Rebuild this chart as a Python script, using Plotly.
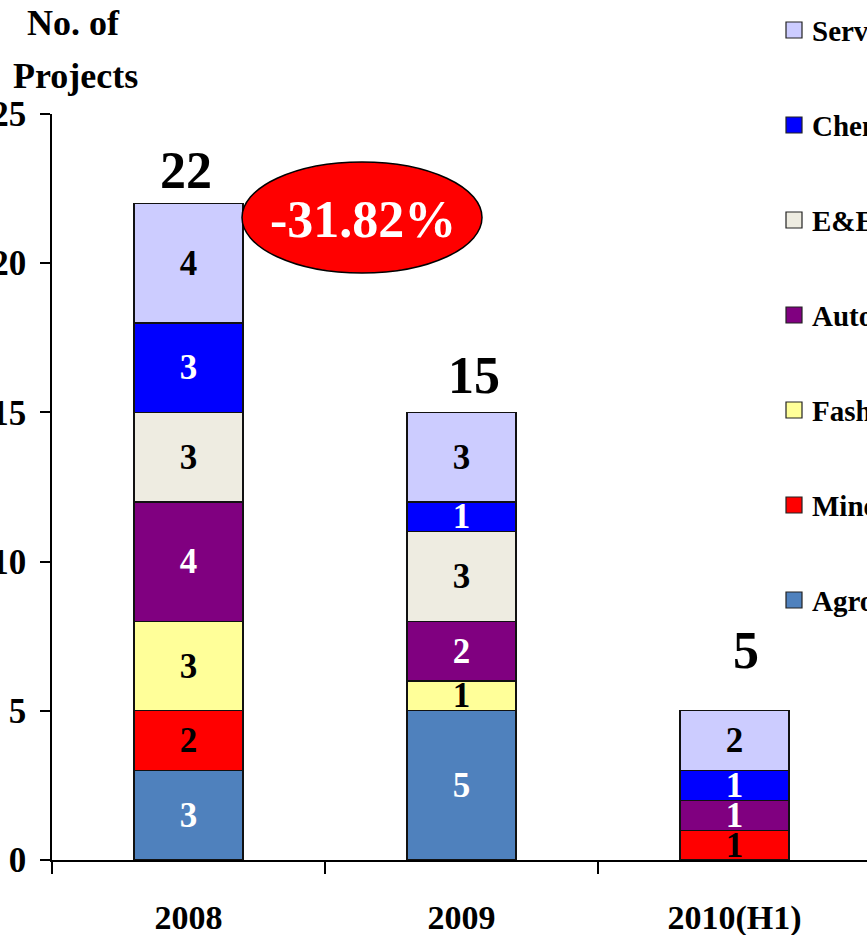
import plotly.graph_objects as go

categories = ["2008", "2009", "2010(H1)"]
series_names = ["Agro-based", "Mineral", "Fashion", "Automotive", "E&E", "Chemical", "Services"]
agro = [3, 5, None]
mineral = [2, None, 1]
fashion = [3, 1, None]
automotive = [4, 2, 1]
ee = [3, 3, None]
chemical = [3, 1, 1]
services = [4, 3, 2]
totals = [22, 15, 5]
change_label = "-31.82%"
y_ticks = [0, 5, 10, 15, 20, 25]

series_values = [agro, mineral, fashion, automotive, ee, chemical, services]
colors = ["#4F81BD", "#FF0000", "#FFFF99", "#800080", "#EEECE1", "#0000FF", "#CCCCFF"]
text_colors = ["white", "black", "black", "white", "black", "white", "black"]

FONT = "Liberation Serif, Times New Roman, serif"

W, H = 867, 935
L, T, B = 52, 114, 75
plot_w = W - L
plot_h = H - T - B
cat_px = 273.0

fig = go.Figure()
for name, vals, col, tcol in zip(series_names, series_values, colors, text_colors):
    fig.add_trace(go.Bar(
        x=categories, y=vals, name=name,
        marker=dict(color=col, line=dict(color="#111111", width=1.3)),
        text=[("" if v is None else str(v)) for v in vals],
        textposition="inside", insidetextanchor="middle", textangle=0,
        constraintext="none",
        textfont=dict(family=FONT, size=35, color=tcol, weight="bold"),
        showlegend=False,
    ))

def px_to_paper_x(px):
    return (px - L) / plot_w

def px_to_paper_y(py):
    return (H - B - py) / plot_h

annotations = []
shapes = []

# titles
annotations.append(dict(text="No. of", x=px_to_paper_x(73), y=px_to_paper_y(23), xref="paper", yref="paper",
                        xanchor="center", yanchor="middle", showarrow=False,
                        font=dict(family=FONT, size=36, color="black", weight="bold")))
annotations.append(dict(text="Projects", x=px_to_paper_x(75), y=px_to_paper_y(76), xref="paper", yref="paper",
                        xanchor="center", yanchor="middle", showarrow=False,
                        font=dict(family=FONT, size=36, color="black", weight="bold")))

# totals above bars (x given as category index)
shifts = [(-3, 33), (12, 37), (11, 60)]
for i, (tot, (dx, dy)) in enumerate(zip(totals, shifts)):
    annotations.append(dict(text=str(tot), x=i, y=tot, xref="x", yref="y",
                            xanchor="center", yanchor="middle", xshift=dx, yshift=dy, showarrow=False,
                            font=dict(family=FONT, size=52, color="black", weight="bold")))

# ellipse with change
shapes.append(dict(type="circle", xref="paper", yref="paper",
                   x0=px_to_paper_x(242), x1=px_to_paper_x(482),
                   y0=px_to_paper_y(273), y1=px_to_paper_y(162),
                   fillcolor="#FF0000", line=dict(color="black", width=1.5)))
annotations.append(dict(text=change_label, x=px_to_paper_x(363), y=px_to_paper_y(219), xref="paper", yref="paper",
                        xanchor="center", yanchor="middle", showarrow=False,
                        font=dict(family=FONT, size=52, color="white", weight="bold")))

# custom legend (clipped at right edge like the reference)
legend_order = list(range(len(series_names)))[::-1]
for i, idx in enumerate(legend_order):
    cy = 30 + 95 * i
    shapes.append(dict(type="rect", xref="paper", yref="paper",
                       x0=px_to_paper_x(786), x1=px_to_paper_x(802),
                       y0=px_to_paper_y(cy + 8), y1=px_to_paper_y(cy - 8),
                       fillcolor=colors[idx], line=dict(color="#222222", width=1.2)))
    annotations.append(dict(text=series_names[idx], x=px_to_paper_x(810), y=px_to_paper_y(cy + 1),
                            xref="paper", yref="paper", xanchor="left", yanchor="middle", showarrow=False,
                            font=dict(family=FONT, size=29, color="black", weight="bold")))

fig.update_layout(
    width=W, height=H,
    margin=dict(l=L, r=0, t=T, b=B, pad=0, autoexpand=False),
    barmode="stack", bargap=0.6,
    plot_bgcolor="white", paper_bgcolor="white",
    showlegend=False,
    annotations=annotations, shapes=shapes,
    uniformtext=dict(mode="show", minsize=35),
)
fig.update_xaxes(
    type="category", range=[-0.5, -0.5 + plot_w / cat_px], automargin=False,
    showline=True, linecolor="black", linewidth=1.5,
    ticks="outside", tickson="boundaries", ticklen=12, tickwidth=1.5, tickcolor="black",
    tickfont=dict(family=FONT, size=34, color="black", weight="bold"),
    ticklabelstandoff=26,
    showgrid=False, zeroline=False, fixedrange=True,
)
fig.update_yaxes(
    range=[0, 25], tickvals=y_ticks, automargin=False,
    showline=True, linecolor="black", linewidth=1.5,
    ticks="outside", ticklen=10, tickwidth=1.5, tickcolor="black",
    tickfont=dict(family=FONT, size=35, color="black", weight="bold"),
    ticklabelstandoff=7,
    showgrid=False, zeroline=False, fixedrange=True,
)

fig.write_html("out.html", config={"displayModeBar": False},
               post_script="document.body.style.margin='0';document.body.style.overflow='hidden';")
